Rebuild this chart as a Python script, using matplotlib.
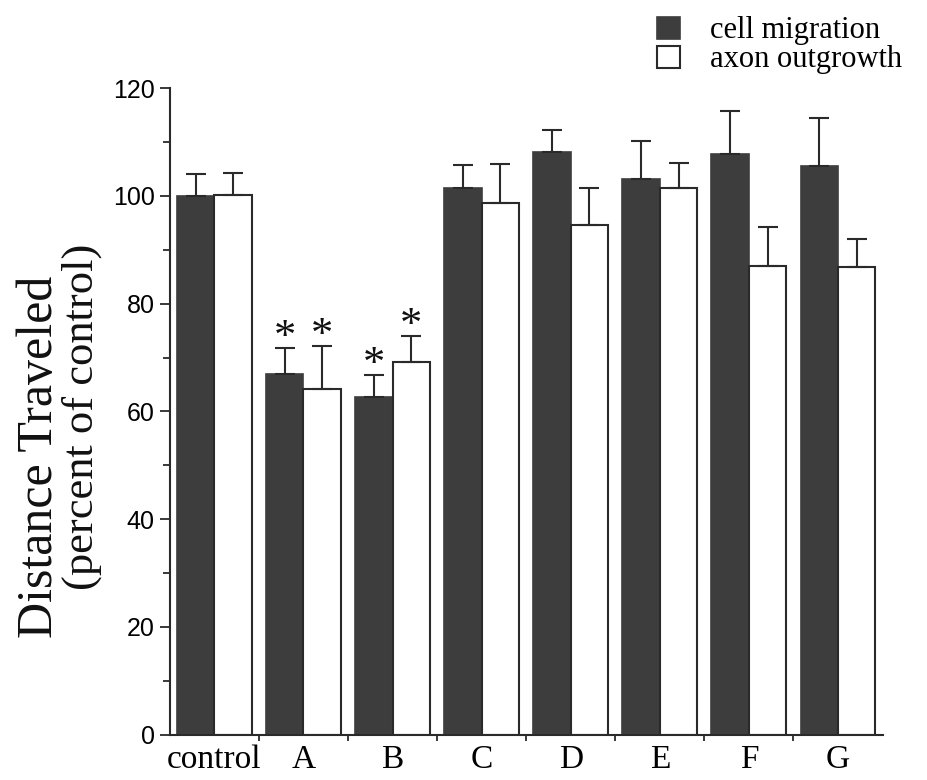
import numpy as np
import matplotlib
matplotlib.use("Agg")
import matplotlib.pyplot as plt
from matplotlib.ticker import MultipleLocator, FixedLocator

# data
groups = ["control", "A", "B", "C", "D", "E", "F", "G"]
migration = [100.0, 67.0, 62.7, 101.5, 108.2, 103.2, 107.8, 105.6]
migration_err = [4.0, 4.7, 4.1, 4.2, 4.0, 6.9, 8.0, 8.9]
outgrowth = [100.2, 64.2, 69.2, 98.6, 94.6, 101.4, 87.0, 86.8]
outgrowth_err = [4.1, 8.0, 4.8, 7.3, 6.9, 4.8, 7.3, 5.2]
migration_sig = [False, True, True, False, False, False, False, False]
outgrowth_sig = [False, True, True, False, False, False, False, False]

serif = ["Liberation Serif", "DejaVu Serif"]
sans = ["Liberation Sans", "DejaVu Sans"]
dark = "#3d3d3d"
ink = "#2a2a2a"

fig = plt.figure(figsize=(9.28, 7.8), dpi=100)
ax = fig.add_axes([0.183, 0.058, 0.768, 0.829])

x = np.arange(len(groups))
w = 0.42
err_kw = dict(ecolor=ink, elinewidth=1.5, capsize=7, capthick=1.5)

ax.bar(x - w / 2, migration, w, color=dark, edgecolor=dark, linewidth=1.2,
       yerr=[np.zeros(len(groups)), migration_err], error_kw=err_kw,
       label="cell migration")
ax.bar(x + w / 2, outgrowth, w, color="white", edgecolor=ink, linewidth=1.5,
       yerr=[np.zeros(len(groups)), outgrowth_err], error_kw=err_kw,
       label="axon outgrowth")

# significance stars above the error caps
for i in range(len(groups)):
    if migration_sig[i]:
        ax.text(x[i] - w / 2, migration[i] + migration_err[i] - 0.2, "*",
                ha="center", va="baseline", fontsize=32, family=serif, color="#111")
    if outgrowth_sig[i]:
        ax.text(x[i] + w / 2, outgrowth[i] + outgrowth_err[i] - 0.2, "*",
                ha="center", va="baseline", fontsize=32, family=serif, color="#111")

ax.set_xlim(-0.5, 7.5)
ax.set_ylim(0, 120)
ax.spines["top"].set_visible(False)
ax.spines["right"].set_visible(False)
for s in ["left", "bottom"]:
    ax.spines[s].set_linewidth(1.5)
    ax.spines[s].set_color(ink)

ax.yaxis.set_major_locator(MultipleLocator(20))
ax.yaxis.set_minor_locator(MultipleLocator(10))
ax.tick_params(axis="y", which="major", length=7, width=1.3, color=ink, pad=4,
               labelsize=18)
ax.tick_params(axis="y", which="minor", length=5, width=1.3, color=ink)
for lab in ax.get_yticklabels():
    lab.set_family(sans)

ax.set_xticks(x)
ax.set_xticklabels(groups, family=serif, fontsize=24)
ax.xaxis.set_minor_locator(FixedLocator(x[:-1] + 0.5))
ax.tick_params(axis="x", which="major", length=0, pad=7)
ax.tick_params(axis="x", which="minor", length=4, width=1.3, color=ink)

fig.text(0.043, 0.414, "Distance Traveled", rotation=90, ha="center",
         va="center", fontsize=36, family=serif, color="#111")
fig.text(0.088, 0.466, "(percent of control)", rotation=90, ha="center",
         va="center", fontsize=32, family=serif, color="#111")

fig.legend(loc="upper left", bbox_to_anchor=(0.708, 0.979), frameon=False,
           handlelength=0.75, handleheight=0.75, handletextpad=1.0,
           labelspacing=0.0, borderpad=0, borderaxespad=0,
           prop={"family": serif, "size": 22})

fig.savefig("out.png", dpi=100)
